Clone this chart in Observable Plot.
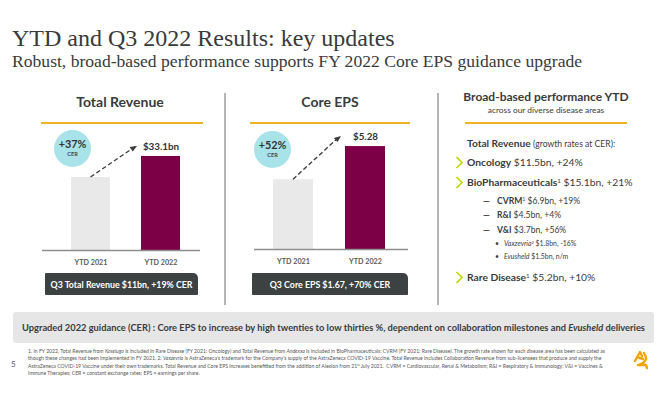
<!DOCTYPE html>
<html><head><meta charset="utf-8">
<script src="https://cdn.jsdelivr.net/npm/d3@7"></script>
<script src="https://cdn.jsdelivr.net/npm/@observablehq/plot@0.6"></script>
<style>
body{margin:0;background:#fff;}
#slide{position:relative;width:663px;height:399px;overflow:hidden;font-family:Lato,"Open Sans",sans-serif;color:#3b3b3b;}
.abs{position:absolute;white-space:nowrap;}
.serif{font-family:"Liberation Serif","DejaVu Serif",serif;color:#3a3a3a;}
.chart g[aria-label^="x-axis"] text{font-weight:700;fill:#5a5a5a;}
.box{background:#3c4242;color:#fff;font-weight:700;font-size:8.8px;display:flex;align-items:center;justify-content:center;border-radius:1px 5px 1px 1px;}
sup{font-size:0.6em;line-height:0;vertical-align:0.55em;}
</style></head><body><div id="slide"></div>
<script>
// ---------- data ----------
const categories = ["YTD 2021", "YTD 2022"];
const revenueValues = [25.7, 33.1];
const epsValues = [3.58, 5.28];
const revenueValueLabel = "$33.1bn";
const epsValueLabel = "$5.28";
const revenueGrowth = {pct: "+37%", basis: "CER"};
const epsGrowth = {pct: "+52%", basis: "CER"};
const panelTitles = ["Total Revenue", "Core EPS"];
const q3Notes = ["Q3 Total Revenue $11bn, +19% CER", "Q3 Core EPS $1.67, +70% CER"];
const areaHeader = "Broad-based performance YTD";
const areaSub = "across our diverse disease areas";
const areaLead = ["Total Revenue", " (growth rates at CER):"];
const areaNames = ["Oncology", "BioPharmaceuticals", "CVRM", "R&I", "V&I", "Vaxzevria", "Evusheld", "Rare Disease"];
const areaSups = ["", "1", "1", "", "", "2", "", "1"];
const areaLevels = [1, 1, 2, 2, 2, 3, 3, 1];
const areaValues = ["$11.5bn, +24%", "$15.1bn, +21%", "$6.9bn, +19%", "$4.5bn, +4%", "$3.7bn, +56%", "$1.8bn, -16%", "$1.5bn, n/m", "$5.2bn, +10%"];
const titleText = "YTD and Q3 2022 Results: key updates";
const subtitleText = "Robust, broad-based performance supports FY 2022 Core EPS guidance upgrade";
const guidanceText = ["Upgraded 2022 guidance (CER) : Core EPS to increase by high twenties to low thirties %, dependent on collaboration milestones and ", "Evusheld", " deliveries"];
const footnoteLines = [
  "1. In FY 2022, Total Revenue from <i>Koselugo</i> is included in Rare Disease (FY 2021: Oncology) and Total Revenue from <i>Andexxa</i> is included in BioPharmaceuticals: CVRM (FY 2021: Rare Disease). The growth rate shown for each disease area has been calculated as",
  "though these changes had been implemented in FY 2021. 2. <i>Vaxzevria</i> is AstraZeneca's trademark for the Company's supply of the AstraZeneca COVID-19 Vaccine. Total Revenue includes Collaboration Revenue from sub-licensees that produce and supply the",
  "AstraZeneca COVID-19 Vaccine under their own trademarks. Total Revenue and Core EPS increases benefitted from the addition of Alexion from 21<sup>st</sup> July 2021.&nbsp; CVRM = Cardiovascular, Renal &amp; Metabolism; R&amp;I = Respiratory &amp; Immunology; V&amp;I = Vaccines &amp;",
  "Immune Therapies; CER = constant exchange rates; EPS = earnings per share."
];
const pageNumber = "5";

// ---------- styles ----------
const FONT = 'Lato, "Open Sans", sans-serif';
const C = {gray: "#e9e9e9", maroon: "#7b0046", cyan: "#a8e3ea", gold: "#f0b323", lime: "#c4d600", dark: "#3b3b3b"};
const slide = document.getElementById("slide");
function el(html, css, cls = "abs") {
  const d = document.createElement("div");
  d.className = cls; d.innerHTML = html; d.style.cssText = css; slide.appendChild(d); return d;
}

// title
el(titleText, "left:12px;top:25px;font-size:24px;", "abs serif");
el(subtitleText, "left:12px;top:51px;font-size:17.6px;", "abs serif");

// separators
el("", "left:224px;top:93px;width:1.5px;height:212px;background:#b5b5b5;");
el("", "left:437px;top:93px;width:1.5px;height:212px;background:#b5b5b5;");

// ---------- bar chart ----------
function barChart(o) {
  const data = categories.map((c, i) => ({cat: c, value: o.values[i]}));
  const arrowMark = (index, scales) => {
    const sx = scales.x, sy = scales.y;
    const bw = typeof sx.bandwidth === "function" ? sx.bandwidth() : sx.bandwidth;
    const x1 = sx(categories[0]) + bw / 2, y1 = sy(o.values[0]);
    const x2 = sx(categories[1]) - 5, y2 = sy(o.values[1]) - 10;
    const g = d3.create("svg:g");
    g.append("line").attr("x1", x1).attr("y1", y1).attr("x2", x2).attr("y2", y2)
      .attr("stroke", "#3d3d3d").attr("stroke-width", 1.4).attr("stroke-dasharray", "4.5,2.6");
    const a = Math.atan2(y2 - y1, x2 - x1), L = 6.5, w = 0.45;
    g.append("path").attr("d", `M${x2 - L * Math.cos(a - w)},${y2 - L * Math.sin(a - w)}L${x2 + 1},${y2}L${x2 - L * Math.cos(a + w)},${y2 - L * Math.sin(a + w)}Z`)
      .attr("fill", "#3d3d3d");
    return g.node();
  };
  const chart = Plot.plot({
    width: o.width, height: o.height,
    marginLeft: o.ml, marginRight: o.mr, marginTop: 0, marginBottom: o.mb,
    style: {fontFamily: FONT, fontSize: "7.2px", color: "#5a5a5a", background: "transparent", overflow: "visible"},
    x: {domain: categories, paddingInner: o.pi, paddingOuter: o.po, align: o.align, tickSize: 0, tickPadding: 9, label: null},
    y: {domain: [0, o.ymax], axis: null},
    color: {domain: categories, range: [C.gray, C.maroon]},
    marks: [
      Plot.barY(data, {x: "cat", y: "value", fill: "cat"}),
      Plot.ruleY([0], {stroke: "#8e8e8e", strokeWidth: 1.3}),
      Plot.text(data.slice(1), {x: "cat", y: "value", text: () => o.label, dy: -10, fontSize: 9.8, fontWeight: 700, fill: "#333"}),
      Plot.dot([o.growth], {frameAnchor: "top-left", dx: o.cdx, dy: o.cdy, r: o.cr, fill: C.cyan, stroke: "none"}),
      Plot.text([o.growth], {frameAnchor: "top-left", textAnchor: "middle", lineAnchor: "middle", dx: o.cdx, dy: o.cdy - 4, text: d => d.pct, fontSize: 10.8, fontWeight: 700, fill: "#333"}),
      Plot.text([o.growth], {frameAnchor: "top-left", textAnchor: "middle", lineAnchor: "middle", dx: o.cdx, dy: o.cdy + 6, text: d => d.basis, fontSize: 5.6, fontWeight: 700, fill: "#444"}),
      arrowMark
    ]
  });
  chart.classList.add("chart");
  const wrap = el("", `left:${o.left}px;top:${o.top}px;`);
  wrap.appendChild(chart);
}

barChart({values: revenueValues, label: revenueValueLabel, growth: revenueGrowth,
  left: 35, top: 125, width: 170, height: 150, ml: 7, mr: 5, mb: 25, ymax: 44.0,
  pi: 0.443, po: 0.35, align: 0.6, cdx: 30, cdy: 23, cr: 18.5});
barChart({values: epsValues, label: epsValueLabel, growth: epsGrowth,
  left: 247, top: 125, width: 170, height: 150, ml: 7, mr: 9, mb: 26, ymax: 6.36,
  pi: 0.448, po: 0.286, align: 0.46, cdx: 18, cdy: 24, cr: 18.5});

// panel headers, gold rules, Q3 boxes
el(panelTitles[0], "left:40px;width:160px;top:93px;text-align:center;font-size:14px;font-weight:700;");
el("", `left:41px;top:121.5px;width:162px;height:2px;background:${C.gold};`);
el(`<span>${q3Notes[0]}</span>`, "left:45px;top:273px;width:153px;height:22px;", "abs box");
el(panelTitles[1], "left:250px;width:160px;top:93px;text-align:center;font-size:14px;font-weight:700;");
el("", `left:250px;top:121.5px;width:160px;height:2px;background:${C.gold};`);
el(`<span>${q3Notes[1]}</span>`, "left:252px;top:273px;width:156px;height:22px;", "abs box");

// ---------- right panel ----------
el(areaHeader, "left:455px;width:182px;top:89px;text-align:center;font-size:12px;font-weight:700;");
el(areaSub, "left:455px;width:182px;top:105px;text-align:center;font-size:8.4px;");
el("", `left:465px;top:121.5px;width:162px;height:2px;background:${C.gold};`);
el(`<b>${areaLead[0]}</b><span style="font-size:8.6px">${areaLead[1]}</span>`, "left:467px;top:137px;font-size:10.2px;");
const rowY = [163, 183, 202, 216, 231, 244, 257, 278];
const chevron = `<svg width="9" height="13" style="position:absolute;left:-12px;top:0px"><polyline points="1.5,1 7,6.5 1.5,12" fill="none" stroke="${C.lime}" stroke-width="1.7"/></svg>`;
areaNames.forEach((n, i) => {
  const lv = areaLevels[i];
  const sup = areaSups[i] ? `<sup>${areaSups[i]}</sup>` : "";
  if (lv === 1) {
    el(`${chevron}<b>${n}</b>${sup} ${areaValues[i]}`, `left:467px;top:${rowY[i] - 7.5}px;font-size:10.3px;`);
  } else if (lv === 2) {
    el(`<span style="position:absolute;left:-14px;font-weight:700">—</span><b>${n}</b>${sup} ${areaValues[i]}`, `left:497px;top:${rowY[i] - 6}px;font-size:8.6px;`);
  } else {
    el(`<span style="position:absolute;left:-9px;">•</span><i>${n}</i>${sup} ${areaValues[i]}`, `left:504px;top:${rowY[i] - 5}px;font-size:6.9px;`);
  }
});

// guidance box
el(`<span>${guidanceText[0]}<i>${guidanceText[1]}</i>${guidanceText[2]}</span>`,
  "left:13px;top:312px;width:641px;height:31px;background:#e6e6e6;border-radius:3px;display:flex;align-items:center;justify-content:center;font-size:9.3px;font-weight:700;color:#3a3a3a;");

// footnotes
footnoteLines.forEach((t, i) => el(t, `left:28px;top:${348 + i * 7.3}px;font-size:5.1px;color:#555;`));
el(pageNumber, "left:11px;top:359px;font-size:8px;color:#555;");

// AZ mark
el(`<svg width="18" height="20" viewBox="0 0 18 20"><path d="M3,11 L8,2 L10,6 M5,7 L11,9 M12,3 C15,8 15,10 11,13 L6,15 L14,15 L15,18" fill="none" stroke="#f0a500" stroke-width="2.4" stroke-linecap="round" stroke-linejoin="round"/></svg>`,
  "left:632px;top:350px;");
</script></body></html>
